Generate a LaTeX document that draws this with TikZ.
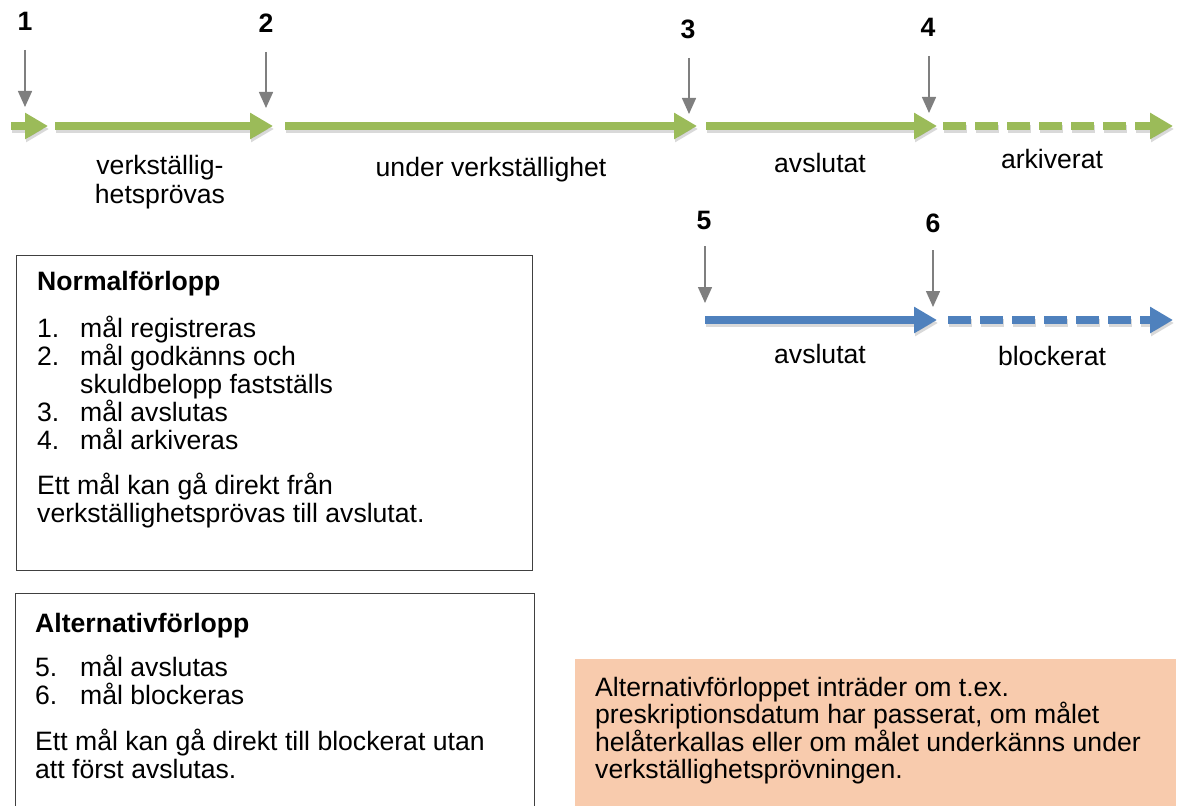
\documentclass[tikz,border=0pt]{standalone}
\usepackage{fontspec}
\setmainfont{Liberation Sans}
\usetikzlibrary{arrows.meta}
\definecolor{grn}{HTML}{9BBB59}
\definecolor{blu}{HTML}{4F81BD}
\definecolor{gry}{HTML}{7F7F7F}
\definecolor{orfill}{HTML}{F8CBAD}
\definecolor{frame}{HTML}{404040}
\begin{document}
\begin{tikzpicture}[x=1pt,y=-1pt,
  txt/.style={inner sep=0pt, font=\fontsize{26.6}{28}\selectfont},
  lbl/.style={txt, anchor=base},
  lft/.style={txt, anchor=base west},
  num/.style={inner sep=0pt, anchor=base, font=\fontsize{26.6}{28}\selectfont\bfseries},
  pin/.style={draw=gry, line width=1.5pt, -{Triangle[length=16pt,width=14pt]}},
  fat/.style={line width=8pt, -{Triangle[length=23pt,width=25pt]}},
  shade/.style={fat, draw=black, opacity=0.15},
  dsh/.style={dash pattern=on 23pt off 9pt},
  panel/.style={draw=frame, line width=1.3pt, fill=white, inner sep=0pt, anchor=north west}
]
\useasboundingbox (0,0) rectangle (1182,805);

% ---------- coordinates of the timelines ----------
\coordinate (g0) at (11,126);
\coordinate (g1) at (48,126);
\coordinate (g2s) at (55,126);
\coordinate (g2) at (273,126);
\coordinate (g3s) at (285,126);
\coordinate (g3) at (697,126);
\coordinate (g4s) at (706,126);
\coordinate (g4) at (937,126);
\coordinate (g5s) at (943,126);
\coordinate (g5) at (1173,126);
\coordinate (b0) at (705,320);
\coordinate (b1) at (937,320);
\coordinate (b2s) at (948,320);
\coordinate (b2) at (1173,320);

% shadows
\foreach \a/\b in {g0/g1,g2s/g2,g3s/g3,g4s/g4,b0/b1}
  \draw[shade] ([shift={(1,3)}]\a) -- ([shift={(1,3)}]\b);
\foreach \a/\b in {g5s/g5,b2s/b2}
  \draw[shade,dsh] ([shift={(1,3)}]\a) -- ([shift={(1,3)}]\b);

% green timeline
\draw[fat,draw=grn] (g0) -- (g1);
\draw[fat,draw=grn] (g2s) -- (g2);
\draw[fat,draw=grn] (g3s) -- (g3);
\draw[fat,draw=grn] (g4s) -- (g4);
\draw[fat,draw=grn,dsh] (g5s) -- (g5);
% blue timeline
\draw[fat,draw=blu] (b0) -- (b1);
\draw[fat,draw=blu,dsh] (b2s) -- (b2);

% ---------- numbered pins ----------
\node[num] (n1) at (25,31) {1};
\node[num] (n2) at (266,33) {2};
\node[num] (n3) at (688,39) {3};
\node[num] (n4) at (928,37) {4};
\node[num] (n5) at (704,229) {5};
\node[num] (n6) at (933,232) {6};
\coordinate (p1a) at (25,50);  \coordinate (p1b) at (25,107);
\coordinate (p2a) at (266,52); \coordinate (p2b) at (266,108);
\coordinate (p3a) at (689,58); \coordinate (p3b) at (689,114);
\coordinate (p4a) at (929,56); \coordinate (p4b) at (929,113);
\coordinate (p5a) at (705,246); \coordinate (p5b) at (705,303);
\coordinate (p6a) at (933,250); \coordinate (p6b) at (933,307);
\foreach \i in {1,...,6}
  \draw[pin] (p\i a) -- (p\i b);

% ---------- timeline labels ----------
\node[lbl] (l1a) at (160,175) {verkställig-};
\node[lbl] (l1b) at (160,203) {hetsprövas};
\node[lbl] (l2) at (491,176) {under verkställighet};
\node[lbl] (l3) at (820,173) {avslutat};
\node[lbl] (l4) at (1052,168) {arkiverat};
\node[lbl] (l5) at (820,363) {avslutat};
\node[lbl] (l6) at (1052,365) {blockerat};

% ---------- Normalförlopp box ----------
\node[panel, minimum width=516pt, minimum height=315pt] (box1) at (16,255) {};
\node[num, anchor=base west] (t1) at (37,290) {Normalförlopp};
\node[lft] (a1) at (37,337) {1.};  \node[lft] (a1t) at (80,337) {mål registreras};
\node[lft] (a2) at (37,365) {2.};  \node[lft] (a2t) at (80,365) {mål godkänns och};
\node[lft] (a2u) at (80,393) {skuldbelopp fastställs};
\node[lft] (a3) at (37,421) {3.};  \node[lft] (a3t) at (80,421) {mål avslutas};
\node[lft] (a4) at (37,449) {4.};  \node[lft] (a4t) at (80,449) {mål arkiveras};
\node[lft] (a5) at (37,494) {Ett mål kan gå direkt från};
\node[lft] (a6) at (37,522) {verkställighetsprövas till avslutat.};

% ---------- Alternativförlopp box ----------
\node[panel, minimum width=519pt, minimum height=240pt] (box2) at (15,593) {};
\node[num, anchor=base west] (t2) at (35,632) {Alternativförlopp};
\node[lft] (c1) at (35,676) {5.};  \node[lft] (c1t) at (80,676) {mål avslutas};
\node[lft] (c2) at (35,704) {6.};  \node[lft] (c2t) at (80,704) {mål blockeras};
\node[lft] (c3) at (35,750) {Ett mål kan gå direkt till blockerat utan};
\node[lft] (c4) at (35,778) {att först avslutas.};

% ---------- orange note ----------
\node[fill=orfill, inner sep=0pt, anchor=north west, minimum width=601pt, minimum height=180pt] (note) at (575,659) {};
\node[lft] (o1) at (595,696) {Alternativförloppet inträder om t.ex.};
\node[lft] (o2) at (595,723) {preskriptionsdatum har passerat, om målet};
\node[lft] (o3) at (595,751) {helåterkallas eller om målet underkänns under};
\node[lft] (o4) at (595,778) {verkställighetsprövningen.};
\end{tikzpicture}
\end{document}
